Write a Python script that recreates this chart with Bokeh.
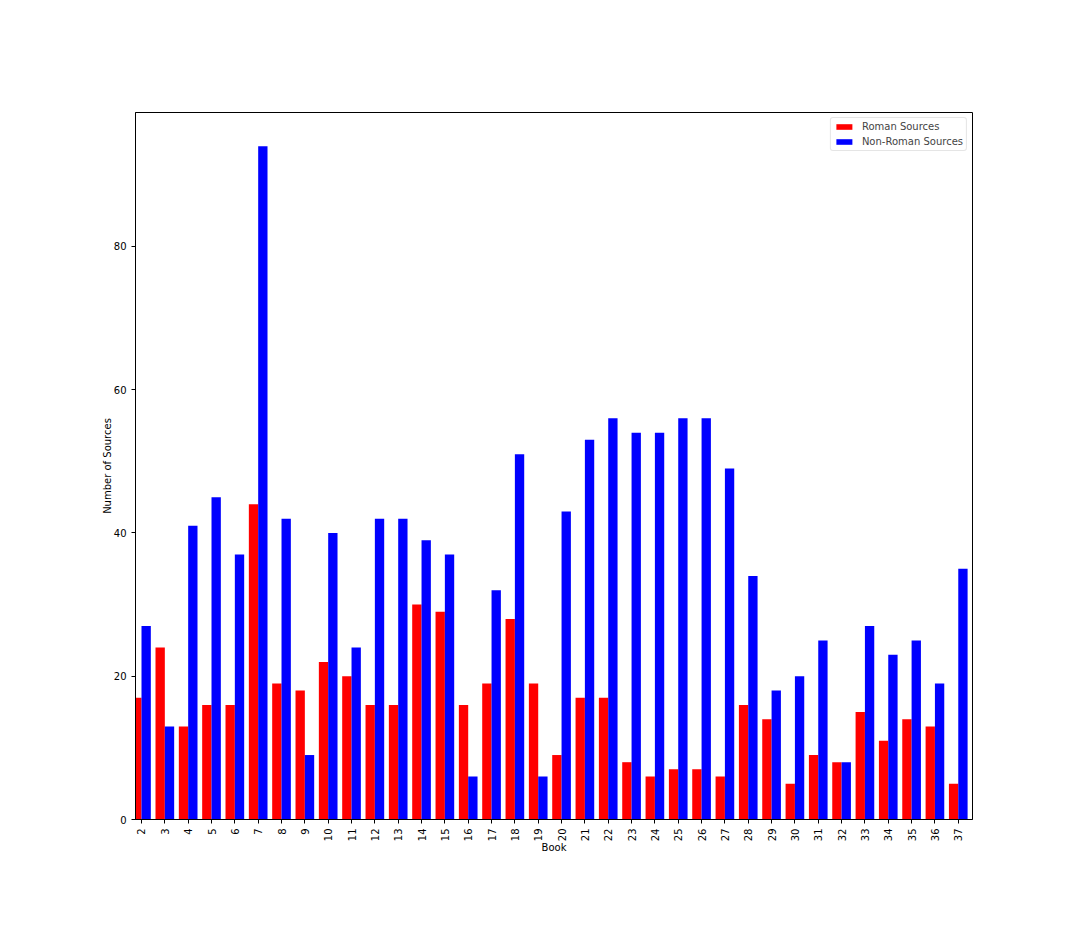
import math
from bokeh.plotting import figure
from bokeh.models import ColumnDataSource, FixedTicker, Range1d, Legend, LegendItem
from bokeh.embed import file_html
from bokeh.resources import INLINE

books = [str(b) for b in range(2, 38)]
roman = [17, 24, 13, 16, 16, 44, 19, 18, 22, 20, 16, 16, 30, 29, 16, 19, 28, 19,
         9, 17, 17, 8, 6, 7, 7, 6, 16, 14, 5, 9, 8, 15, 11, 14, 13, 5]
non_roman = [27, 13, 41, 45, 37, 94, 42, 9, 40, 24, 42, 42, 39, 37, 6, 32, 51, 6,
             43, 53, 56, 54, 54, 56, 56, 49, 34, 18, 20, 25, 8, 27, 23, 25, 19, 35]
y_ticks = [0, 20, 40, 60, 80]

bar_w = 0.4
idx = list(range(len(books)))
src = ColumnDataSource(dict(
    xr=[i - bar_w / 2 for i in idx], xb=[i + bar_w / 2 for i in idx],
    roman=roman, non_roman=non_roman))

p = figure(width=1080, height=936, output_backend="svg", toolbar_location=None,
           x_range=Range1d(-0.257, len(books) - 1 + 0.61),
           y_range=Range1d(0, max(non_roman) * 1.05),
           min_border_left=135, min_border_right=108, min_border_top=112,
           min_border_bottom=117)

r1 = p.vbar(x="xr", top="roman", width=bar_w, source=src, color="#ff0000", line_color=None)
r2 = p.vbar(x="xb", top="non_roman", width=bar_w, source=src, color="#0000ff", line_color=None)

p.xgrid.visible = False
p.ygrid.visible = False
p.outline_line_color = "black"
p.outline_line_width = 1
p.outline_line_alpha = 1

font = "DejaVu Sans"
for ax in (p.xaxis[0], p.yaxis[0]):
    ax.axis_line_color = "black"
    ax.major_tick_line_color = "black"
    ax.major_tick_out = 4
    ax.major_tick_in = 0
    ax.minor_tick_line_color = None
    ax.major_label_text_font = font
    ax.major_label_text_font_size = "10px"
    ax.major_label_text_color = "black"
    ax.axis_label_text_font = font
    ax.axis_label_text_font_size = "10px"
    ax.axis_label_text_font_style = "normal"
    ax.axis_label_text_color = "black"

p.xaxis.ticker = FixedTicker(ticks=idx)
p.xaxis.major_label_overrides = {i: b for i, b in enumerate(books)}
p.xaxis.major_label_orientation = math.pi / 2
p.xaxis.axis_label = "Book"
p.xaxis.axis_label_standoff = -2
p.yaxis.ticker = FixedTicker(ticks=y_ticks)
p.yaxis.axis_label = "Number of Sources"
p.yaxis.axis_label_standoff = -2

legend = Legend(items=[LegendItem(label="Roman Sources", renderers=[r1]),
                       LegendItem(label="Non-Roman Sources", renderers=[r2])],
                location="top_right")
legend.label_text_font = font
legend.label_text_font_size = "10px"
legend.glyph_width = 20
legend.glyph_height = 7
legend.label_height = 11
legend.spacing = 4
legend.padding = 3
legend.margin = 5
legend.border_line_color = "#cccccc"
legend.border_radius = 3
legend.label_standoff = 8
p.add_layout(legend)

open("out.html", "w").write(file_html(p, INLINE))
